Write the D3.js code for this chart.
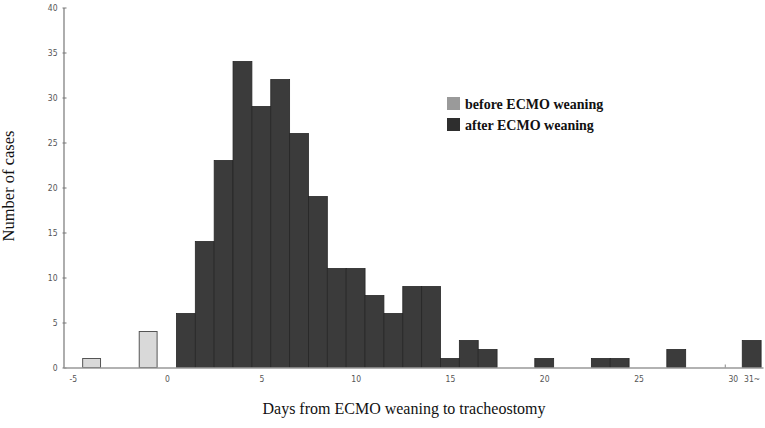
<!DOCTYPE html>
<html>
  <head>
    <meta charset="utf-8">
    <title>Days from ECMO weaning to tracheostomy</title>
    <script src="https://d3js.org/d3.v7.min.js"></script>
    <style>
      body { margin: 0; background: #fff; }
    </style>
  </head>
  <body>
    <div id="chart"></div>
    <script>
      // Cases before ECMO weaning (days relative to weaning)
      const beforeDays = [-4, -1];
      const beforeCounts = [1, 4];

      // Cases after ECMO weaning; 31 stands for "31~"
      const afterDays = [1, 2, 3, 4, 5, 6, 7, 8, 9, 10, 11, 12, 13, 14, 15, 16, 17, 20, 23, 24, 27, 31];
      const afterCounts = [6, 14, 23, 34, 29, 32, 26, 19, 11, 11, 8, 6, 9, 9, 1, 3, 2, 1, 1, 1, 2, 3];

      const xTicks = [-5, 0, 5, 10, 15, 20, 25, 30, 31];
      const xTickLabels = ["-5", "0", "5", "10", "15", "20", "25", "30", "31~"];
      const yTicks = [0, 5, 10, 15, 20, 25, 30, 35, 40];

      const legendLabels = ["before ECMO weaning", "after ECMO weaning"];
      const legendColors = ["#9a9a9a", "#2e2e2e"];

      const width = 765;
      const height = 428;

      const svg = d3.select("#chart")
        .append("svg")
        .attr("width", width)
        .attr("height", height);

      // scales
      const x = d3.scaleLinear().domain([-5.5, 31.6]).range([63.3, 763]);
      const y = d3.scaleLinear().domain([0, 40]).range([367.5, 7.5]);
      const bw = x(1) - x(0);

      const before = beforeDays.map((d, i) => ({ day: d, n: beforeCounts[i] }));
      const after = afterDays.map((d, i) => ({ day: d, n: afterCounts[i] }));

      // bars
      svg.append("g")
        .selectAll("rect")
        .data(before)
        .enter()
        .append("rect")
        .attr("x", d => x(d.day) - bw / 2 + 0.5)
        .attr("y", d => y(d.n))
        .attr("width", bw - 1)
        .attr("height", d => y(0) - y(d.n))
        .attr("fill", "#d9d9d9")
        .attr("stroke", "#555")
        .attr("stroke-width", 1);

      svg.append("g")
        .selectAll("rect")
        .data(after)
        .enter()
        .append("rect")
        .attr("x", d => x(d.day) - bw / 2)
        .attr("y", d => y(d.n))
        .attr("width", bw)
        .attr("height", d => y(0) - y(d.n))
        .attr("fill", "#3b3b3b")
        .attr("stroke", "#262626")
        .attr("stroke-width", 0.8);

      // y axis
      const yAxis = svg.append("g")
        .attr("transform", "translate(63.5,0)")
        .call(d3.axisLeft(y).tickValues(yTicks).tickSize(3).tickSizeOuter(0));
      yAxis.select(".domain").attr("stroke", "#777").attr("stroke-width", 1.2);
      yAxis.selectAll(".tick line").attr("stroke", "#777").attr("x2", 3).attr("x1", -1);
      yAxis.selectAll(".tick text")
        .attr("x", -6)
        .attr("fill", "#555")
        .style("font-family", "DejaVu Sans Condensed, DejaVu Sans, sans-serif")
        .style("font-size", "8.5px");

      // x axis
      const xAxis = svg.append("g")
        .attr("transform", `translate(0,${y(0)})`)
        .call(d3.axisBottom(x).tickValues(xTicks).tickSize(0).tickSizeOuter(0)
          .tickFormat((d, i) => xTickLabels[i]));
      xAxis.select(".domain").attr("stroke", "#999").attr("stroke-width", 1.5);
      xAxis.selectAll(".tick text")
        .attr("y", 8)
        .attr("fill", "#555")
        .style("font-family", "DejaVu Sans Condensed, DejaVu Sans, sans-serif")
        .style("font-size", "8.5px");

      // small break mark near 30
      svg.append("line")
        .attr("x1", x(29.6)).attr("x2", x(29.6))
        .attr("y1", y(0) - 3).attr("y2", y(0))
        .attr("stroke", "#888");

      // axis titles
      svg.append("text")
        .attr("transform", "translate(14,186) rotate(-90)")
        .attr("text-anchor", "middle")
        .style("font-family", "Liberation Serif, Times New Roman, serif")
        .style("font-size", "16.5px")
        .attr("fill", "#111")
        .text("Number of cases");

      svg.append("text")
        .attr("x", 404)
        .attr("y", 414)
        .attr("text-anchor", "middle")
        .style("font-family", "Liberation Serif, Times New Roman, serif")
        .style("font-size", "16px")
        .attr("fill", "#111")
        .text("Days from ECMO weaning to tracheostomy");

      // legend
      const legend = svg.append("g").attr("transform", "translate(447,97)");
      legendLabels.forEach((lab, i) => {
        legend.append("rect")
          .attr("x", 0).attr("y", i * 21)
          .attr("width", 13).attr("height", 13)
          .attr("fill", legendColors[i]);
        legend.append("text")
          .attr("x", 18).attr("y", i * 21 + 12)
          .style("font-family", "Liberation Serif, Times New Roman, serif")
          .style("font-size", "14px")
          .style("font-weight", "bold")
          .attr("fill", "#111")
          .text(lab);
      });
    </script>
  </body>
</html>
